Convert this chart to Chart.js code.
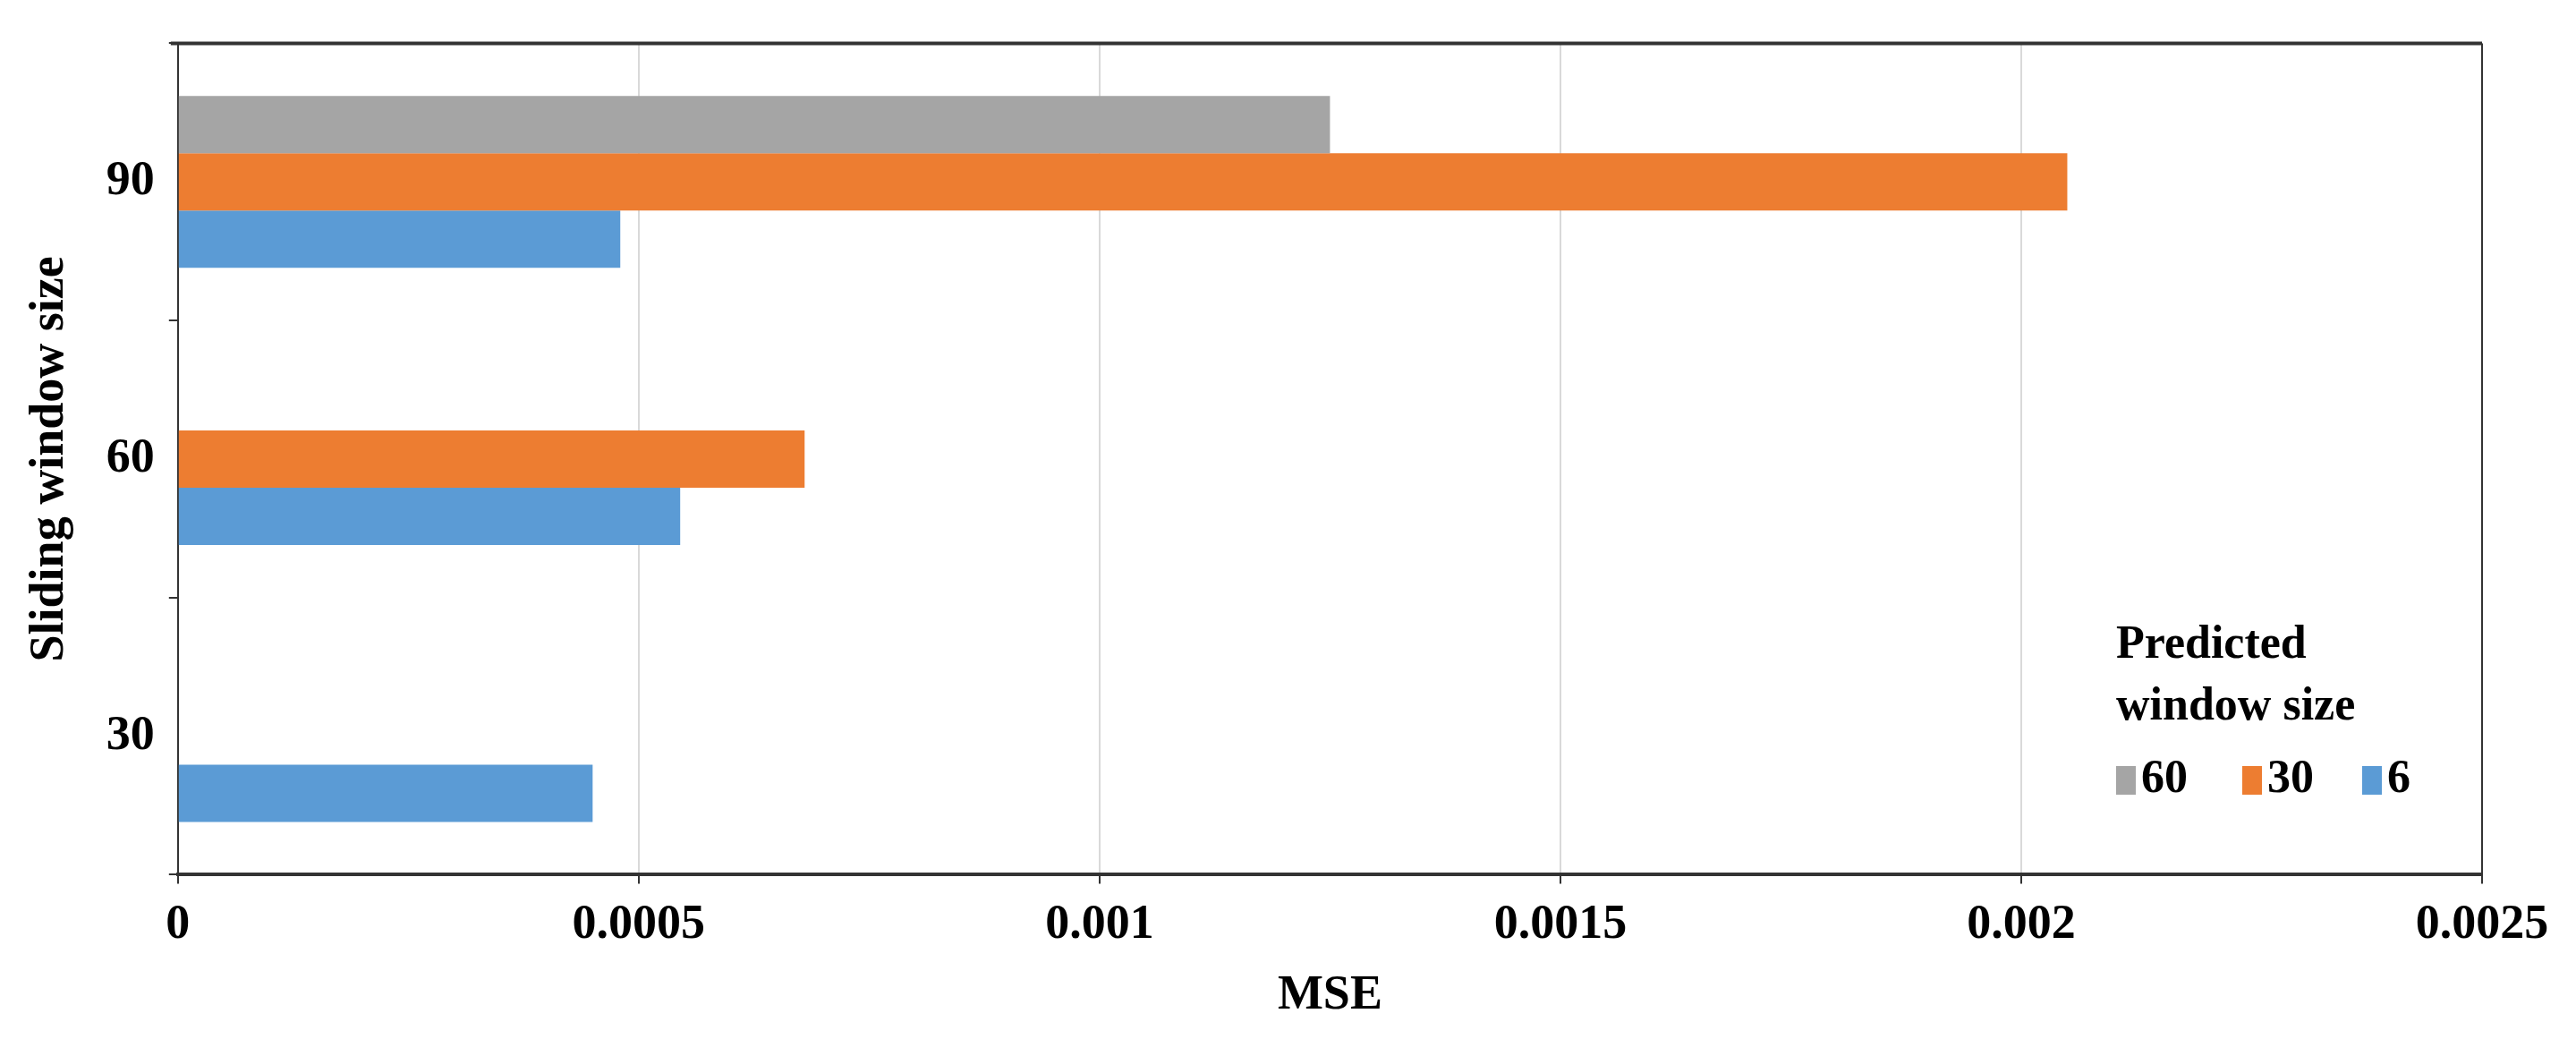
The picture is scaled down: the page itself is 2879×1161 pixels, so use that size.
<!DOCTYPE html>
<html>
<head>
<meta charset="utf-8">
<script src="https://cdn.jsdelivr.net/npm/chart.js@4"></script>
<style>
  html, body { margin: 0; padding: 0; background: #fff; }
  #wrap { width: 2879px; height: 1161px; }
</style>
</head>
<body>
<div id="wrap"><canvas id="mseChart"></canvas></div>
<script>
// sliding window sizes (top to bottom)
const categories = ['90', '60', '30'];
// MSE per predicted window size
const pred60 = [0.00125, null, null];
const pred30 = [0.00205, 0.00068, null];
const pred6 = [0.00048, 0.000545, 0.00045];
const seriesNames = ['60', '30', '6'];
const colors = ['#a5a5a5', '#ed7d31', '#5b9bd5'];

const serif = 'Liberation Serif';

// legend drawn inside the plot, bottom right
const insideLegend = {
  id: 'insideLegend',
  afterDraw(chart) {
    const c = chart.ctx;
    c.save();
    c.fillStyle = '#000';
    c.font = 'bold 52px "' + serif + '"';
    c.textBaseline = 'middle';
    c.fillText('Predicted', 2365, 722);
    c.fillText('window size', 2365, 791);
    const xs = [2365, 2506, 2640];
    seriesNames.forEach((n, i) => {
      c.fillStyle = colors[i];
      c.fillRect(xs[i], 856, 22, 32);
      c.fillStyle = '#000';
      c.fillText(n, xs[i] + 28, 872);
    });
    c.restore();
  }
};

new Chart(document.getElementById('mseChart'), {
  type: 'bar',
  data: {
    labels: categories,
    datasets: [
      { label: seriesNames[0], data: pred60, backgroundColor: colors[0] },
      { label: seriesNames[1], data: pred30, backgroundColor: colors[1] },
      { label: seriesNames[2], data: pred6, backgroundColor: colors[2] }
    ]
  },
  options: {
    indexAxis: 'y',
    responsive: true,
    maintainAspectRatio: false,
    animation: false,
    layout: { padding: { top: 29, right: 105, left: 20, bottom: 12 } },
    datasets: { bar: { categoryPercentage: 0.62, barPercentage: 1.0 } },
    plugins: {
      legend: { display: false },
      tooltip: { enabled: false }
    },
    scales: {
      x: {
        min: 0, max: 0.0025,
        ticks: {
          stepSize: 0.0005,
          color: '#000',
          font: { family: serif, size: 54, weight: 'bold' },
          padding: 14,
          maxRotation: 0,
          callback: v => String(+v.toFixed(4))
        },
        grid: { color: '#d9d9d9', lineWidth: 2, tickLength: 10, tickColor: '#333' },
        border: { color: '#333', width: 4 },
        title: {
          display: true, text: 'MSE', color: '#000',
          font: { family: serif, size: 54, weight: 'bold' }, padding: { top: 0 }
        }
      },
      y: {
        ticks: {
          color: '#000',
          font: { family: serif, size: 54, weight: 'bold' },
          padding: 16
        },
        grid: { offset: true, drawOnChartArea: false, tickLength: 10, tickColor: '#333', lineWidth: 2 },
        border: { color: '#333', width: 2 },
        title: {
          display: true, text: 'Sliding window size', color: '#000',
          font: { family: serif, size: 54, weight: 'bold' }, padding: { bottom: 14 }
        }
      }
    }
  },
  plugins: [insideLegend, {
    id: 'frame',
    afterDraw(chart) {
      const a = chart.chartArea, c = chart.ctx;
      c.save();
      c.strokeStyle = '#333';
      c.lineWidth = 4;
      c.beginPath();
      c.moveTo(a.left - 8, a.top); c.lineTo(a.right, a.top);
      c.stroke();
      c.lineWidth = 2;
      c.beginPath();
      c.moveTo(a.right, a.top); c.lineTo(a.right, a.bottom);
      c.stroke();
      c.restore();
    }
  }]
});
</script>
</body>
</html>
